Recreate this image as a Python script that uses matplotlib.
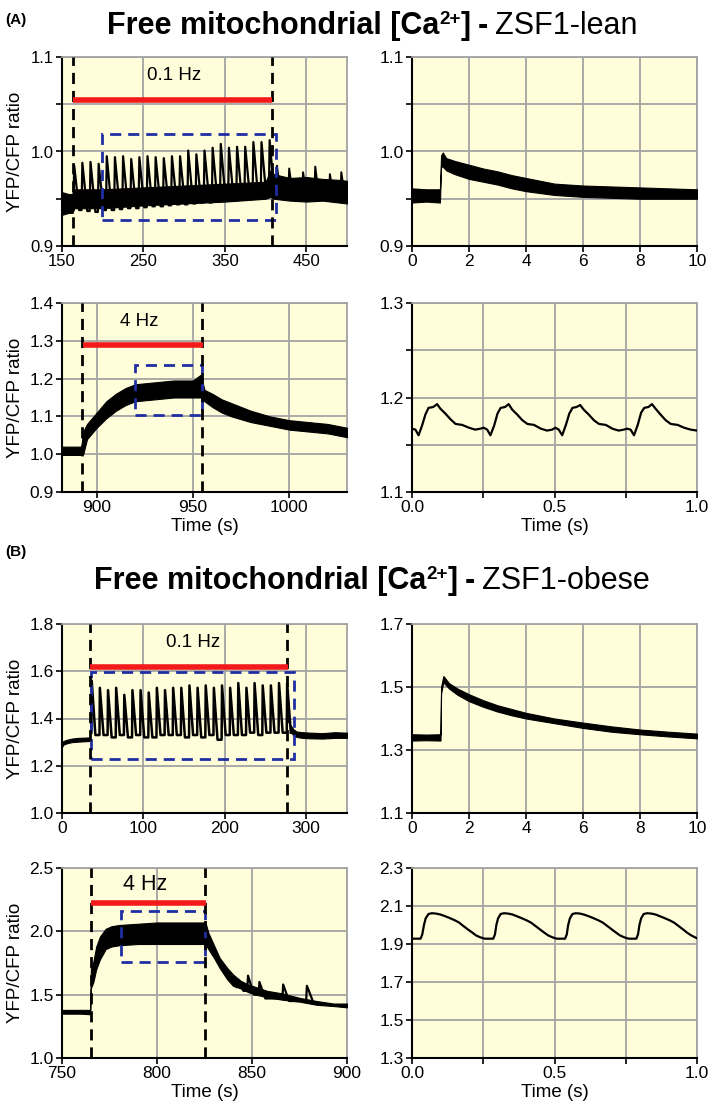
import matplotlib
matplotlib.use("Agg")
import matplotlib.pyplot as plt
from matplotlib.transforms import IdentityTransform
from matplotlib.patches import Rectangle

plt.rcParams['font.family'] = ['Liberation Sans', 'DejaVu Sans']

# ---------------- DATA ----------------
# Panel A, 0.1 Hz, ZSF1-lean (s, ratio)
a1_band_t = [150, 158, 163, 165, 200, 250, 300, 350, 400, 406, 410, 430, 450, 470, 490, 500]
a1_band_lo = [0.933, 0.935, 0.935, 0.940, 0.940, 0.943, 0.945, 0.947, 0.950, 0.952, 0.950, 0.948, 0.947, 0.948, 0.946, 0.945]
a1_band_hi = [0.957, 0.955, 0.955, 0.960, 0.960, 0.962, 0.964, 0.966, 0.968, 0.980, 0.976, 0.972, 0.973, 0.971, 0.970, 0.969]
a1_pulse_t = [164, 174, 184, 194, 204, 214, 224, 234, 244, 254, 264, 274, 284,
              294, 304, 314, 324, 334, 344, 354, 364, 374, 384, 394, 404]
a1_peak = [0.985, 0.988, 0.989, 0.987, 0.995, 0.994, 0.995, 0.992, 0.994, 0.995, 0.994, 0.993, 0.995,
           0.995, 1.001, 0.997, 1.001, 1.004, 1.008, 1.004, 1.005, 1.005, 1.010, 1.010, 1.012]
a1_trough = [0.940, 0.938, 0.937, 0.936, 0.938, 0.938, 0.939, 0.940, 0.940, 0.941, 0.942, 0.942, 0.943,
             0.944, 0.944, 0.945, 0.946, 0.946, 0.947, 0.948, 0.948, 0.949, 0.950, 0.951, 0.952]
a1_post_t = [413, 428, 445, 460, 478, 492]
a1_post_peak = [0.985, 0.982, 0.978, 0.984, 0.976, 0.978]
a1_post_base = [0.958, 0.957, 0.956, 0.957, 0.956, 0.955]

# Panel A, single 0.1 Hz transient (s, ratio)
a2_t = [0, 0.5, 0.98, 1.02, 1.08, 1.2, 1.5, 2, 2.5, 3, 3.5, 4, 4.5, 5, 5.5, 6, 7, 8, 9, 10]
a2_lo = [0.946, 0.947, 0.946, 0.984, 0.984, 0.980, 0.976, 0.971, 0.968, 0.965, 0.961, 0.958, 0.956,
         0.954, 0.953, 0.952, 0.951, 0.950, 0.950, 0.950]
a2_hi = [0.961, 0.960, 0.960, 0.996, 0.999, 0.993, 0.990, 0.986, 0.982, 0.979, 0.975, 0.972, 0.969,
         0.966, 0.965, 0.964, 0.963, 0.962, 0.961, 0.960]

# Panel A, 4 Hz, ZSF1-lean (s, ratio)
a3_t = [882, 892, 893, 895, 900, 905, 910, 915, 920, 930, 940, 950, 954, 956, 960, 965, 970, 980,
        990, 1000, 1010, 1020, 1030]
a3_lo = [0.998, 0.998, 1.000, 1.040, 1.070, 1.095, 1.115, 1.130, 1.140, 1.145, 1.150, 1.150, 1.150,
         1.140, 1.125, 1.110, 1.100, 1.085, 1.075, 1.065, 1.060, 1.055, 1.045]
a3_hi = [1.020, 1.020, 1.060, 1.080, 1.110, 1.140, 1.160, 1.175, 1.185, 1.190, 1.195, 1.195, 1.210,
         1.170, 1.160, 1.145, 1.135, 1.115, 1.100, 1.090, 1.085, 1.080, 1.070]

# Panel A, 4 Hz transients (s, ratio)
a4_t = [0.000, 0.012, 0.023, 0.035, 0.047, 0.058, 0.075, 0.088, 0.100, 0.117, 0.135, 0.153, 0.176,
        0.200, 0.222, 0.240, 0.252,
        0.264, 0.275, 0.288, 0.300, 0.311, 0.327, 0.339, 0.352, 0.369, 0.387, 0.405, 0.428, 0.452,
        0.474, 0.492, 0.503,
        0.515, 0.527, 0.540, 0.552, 0.563, 0.578, 0.590, 0.603, 0.620, 0.638, 0.656, 0.680, 0.703,
        0.725, 0.743, 0.755,
        0.767, 0.779, 0.792, 0.804, 0.815, 0.830, 0.842, 0.855, 0.872, 0.890, 0.908, 0.932, 0.955,
        0.978, 1.000]
a4_y = [1.167, 1.166, 1.160, 1.170, 1.182, 1.189, 1.190, 1.193, 1.188, 1.183, 1.177, 1.172, 1.171,
        1.168, 1.166, 1.167, 1.168,
        1.166, 1.160, 1.170, 1.183, 1.189, 1.190, 1.193, 1.187, 1.182, 1.176, 1.172, 1.171, 1.167,
        1.165, 1.166, 1.168,
        1.166, 1.160, 1.171, 1.183, 1.189, 1.190, 1.192, 1.187, 1.182, 1.176, 1.172, 1.171, 1.167,
        1.165, 1.166, 1.167,
        1.166, 1.160, 1.171, 1.184, 1.189, 1.190, 1.193, 1.188, 1.182, 1.176, 1.172, 1.171, 1.168,
        1.166, 1.165]

# Panel B, 0.1 Hz, ZSF1-obese (s, ratio)
b1_pre_t = [0, 2, 6, 12, 20, 34]
b1_pre_lo = [1.280, 1.290, 1.295, 1.300, 1.302, 1.305]
b1_pre_hi = [1.300, 1.305, 1.310, 1.315, 1.318, 1.320]
b1_pulse_t = [36, 46, 56, 66, 76, 86, 96, 106, 116, 126, 136, 146, 156,
              166, 176, 186, 196, 206, 216, 226, 236, 246, 256, 266, 276]
b1_peak = [1.56, 1.53, 1.52, 1.53, 1.50, 1.52, 1.52, 1.51, 1.53, 1.52, 1.53, 1.53, 1.54,
           1.53, 1.54, 1.53, 1.54, 1.53, 1.55, 1.53, 1.55, 1.54, 1.54, 1.55, 1.55]
b1_trough = [1.34, 1.33, 1.33, 1.32, 1.33, 1.32, 1.33, 1.32, 1.32, 1.33, 1.33, 1.33, 1.32,
             1.33, 1.32, 1.33, 1.31, 1.33, 1.33, 1.33, 1.34, 1.33, 1.34, 1.34, 1.34]
b1_post_t = [280, 284, 288, 295, 305, 320, 335, 350]
b1_post_lo = [1.345, 1.330, 1.322, 1.318, 1.316, 1.315, 1.318, 1.318]
b1_post_hi = [1.375, 1.355, 1.345, 1.342, 1.340, 1.338, 1.342, 1.340]

# Panel B, single 0.1 Hz transient (s, ratio)
b2_t = [0, 0.5, 1.0, 1.02, 1.1, 1.3, 1.6, 2, 2.5, 3, 3.5, 4, 5, 6, 7, 8, 9, 10]
b2_lo = [1.330, 1.331, 1.330, 1.480, 1.515, 1.495, 1.475, 1.455, 1.437, 1.422, 1.410, 1.400,
         1.385, 1.370, 1.358, 1.350, 1.343, 1.337]
b2_hi = [1.350, 1.349, 1.350, 1.500, 1.535, 1.512, 1.495, 1.477, 1.458, 1.442, 1.430, 1.418,
         1.400, 1.387, 1.375, 1.365, 1.358, 1.352]

# Panel B, 4 Hz, ZSF1-obese (s, ratio)
b3_t = [750, 760, 764.8, 765.2, 766.5, 768, 770, 773, 776, 780, 790, 800, 810, 820, 825.5, 827,
        830, 833, 837, 840, 844, 848, 852, 858, 866, 875, 884, 893, 900]
b3_lo = [1.35, 1.35, 1.345, 1.55, 1.60, 1.70, 1.78, 1.86, 1.88, 1.89, 1.90, 1.90, 1.90, 1.90, 1.90,
         1.86, 1.79, 1.71, 1.62, 1.57, 1.55, 1.52, 1.50, 1.48, 1.46, 1.445, 1.42, 1.41, 1.40]
b3_hi = [1.38, 1.38, 1.38, 1.70, 1.76, 1.88, 1.96, 2.02, 2.04, 2.05, 2.06, 2.07, 2.07, 2.07, 2.07,
         1.99, 1.89, 1.79, 1.71, 1.66, 1.61, 1.58, 1.56, 1.53, 1.51, 1.475, 1.45, 1.43, 1.43]
b3_spike_t = [842, 847.5, 853.5, 866, 878.5]
b3_spike_peak = [1.62, 1.65, 1.60, 1.58, 1.57]
b3_spike_base = [1.56, 1.53, 1.50, 1.47, 1.45]

# Panel B, 4 Hz transients (s, ratio)
b4_t = [0.000, 0.030, 0.036, 0.042, 0.048, 0.058, 0.070, 0.085, 0.100, 0.115, 0.130, 0.150, 0.165,
        0.180, 0.195, 0.210, 0.225, 0.240, 0.255, 0.285,
        0.291, 0.296, 0.302, 0.311, 0.323, 0.338, 0.353, 0.368, 0.383, 0.403, 0.418, 0.433, 0.448,
        0.463, 0.478, 0.493, 0.508, 0.537,
        0.543, 0.548, 0.554, 0.563, 0.575, 0.590, 0.605, 0.620, 0.635, 0.655, 0.670, 0.685, 0.700,
        0.715, 0.730, 0.745, 0.760, 0.787,
        0.793, 0.798, 0.804, 0.813, 0.825, 0.840, 0.855, 0.870, 0.885, 0.905, 0.920, 0.935, 0.950,
        0.965, 0.980, 1.000]
b4_y = [1.928, 1.928, 1.950, 2.000, 2.035, 2.058, 2.062, 2.060, 2.055, 2.047, 2.038, 2.025, 2.013,
        1.995, 1.978, 1.962, 1.945, 1.935, 1.928, 1.928,
        1.950, 2.000, 2.035, 2.058, 2.062, 2.060, 2.055, 2.046, 2.037, 2.024, 2.012, 1.995, 1.978,
        1.961, 1.945, 1.935, 1.928, 1.928,
        1.950, 2.000, 2.035, 2.058, 2.062, 2.060, 2.054, 2.046, 2.037, 2.024, 2.012, 1.995, 1.978,
        1.961, 1.945, 1.935, 1.928, 1.928,
        1.950, 2.000, 2.035, 2.058, 2.062, 2.060, 2.055, 2.046, 2.037, 2.024, 2.012, 1.995, 1.978,
        1.960, 1.945, 1.930]

# Ticks / grid
a1_xgrid = [150, 250, 350, 450]; a1_xlab = ['150', '250', '350', '450']
a1_ygrid = [0.9, 0.95, 1.0, 1.05, 1.1]; a1_ylab = ['0.9', '', '1.0', '', '1.1']
a2_xgrid = [0, 2, 4, 6, 8, 10]; a2_xlab = ['0', '2', '4', '6', '8', '10']
a3_xgrid = [900, 950, 1000]; a3_xlab = ['900', '950', '1000']
a3_ygrid = [0.9, 1.0, 1.1, 1.2, 1.3, 1.4]; a3_ylab = ['0.9', '1.0', '1.1', '1.2', '1.3', '1.4']
a4_xgrid = [0, 0.25, 0.5, 0.75, 1.0]; a4_xlab = ['0.0', '', '0.5', '', '1.0']
a4_ygrid = [1.1, 1.15, 1.2, 1.25, 1.3]; a4_ylab = ['1.1', '', '1.2', '', '1.3']
b1_xgrid = [0, 100, 200, 300]; b1_xlab = ['0', '100', '200', '300']
b1_ygrid = [1.0, 1.2, 1.4, 1.6, 1.8]; b1_ylab = ['1.0', '1.2', '1.4', '1.6', '1.8']
b2_ygrid = [1.1, 1.3, 1.5, 1.7]; b2_ylab = ['1.1', '1.3', '1.5', '1.7']
b3_xgrid = [750, 800, 850, 900]; b3_xlab = ['750', '800', '850', '900']
b3_ygrid = [1.0, 1.5, 2.0, 2.5]; b3_ylab = ['1.0', '1.5', '2.0', '2.5']
b4_ygrid = [1.3, 1.5, 1.7, 1.9, 2.1, 2.3]; b4_ylab = ['1.3', '1.5', '1.7', '1.9', '2.1', '2.3']

# ---------------- STYLE ----------------
BG = '#FFFDDA'
GRID = '#A3A3A3'
RED = '#F21A1A'
BLUE = '#1F2FA3'
W, H = 709, 1112

fig = plt.figure(figsize=(W / 100, H / 100), dpi=100)


def make_ax(x0, y0, x1, y1):
    return fig.add_axes([x0 / W, 1 - y1 / H, (x1 - x0) / W, (y1 - y0) / H])


def style(ax, xlim, ylim, xg, xl, yg, yl, ylabel=False, xlabel=False, tfs=12.5):
    ax.set_facecolor(BG)
    ax.set_xlim(*xlim)
    ax.set_ylim(*ylim)
    ax.set_xticks(xg)
    ax.set_xticklabels(xl)
    ax.set_yticks(yg)
    ax.set_yticklabels(yl)
    ax.grid(True, color=GRID, lw=1.3, zorder=0)
    ax.set_axisbelow(True)
    for s in ['top', 'right']:
        ax.spines[s].set_color(GRID)
        ax.spines[s].set_linewidth(1.3)
    for s in ['left', 'bottom']:
        ax.spines[s].set_color('black')
        ax.spines[s].set_linewidth(1.5)
    ax.tick_params(direction='out', length=4, width=1.2, pad=2, labelsize=tfs, colors='black')
    if ylabel:
        ax.set_ylabel('YFP/CFP ratio', fontsize=13.5)
        ax.yaxis.set_label_coords(-0.135, 0.5)
    if xlabel:
        ax.set_xlabel('Time (s)', fontsize=13.5, va='top')
        ax.xaxis.set_label_coords(0.5, -0.135)


def band(ax, t, lo, hi):
    ax.fill_between(t, lo, hi, color='black', lw=0.8, zorder=3)


def spikes(ax, pt, pk, tr, rise, fall, lw=1.6):
    xs, ys = [], []
    for i in range(len(pt)):
        xs += [pt[i], pt[i] + rise, pt[i] + fall]
        ys += [tr[i], pk[i], tr[min(i + 1, len(tr) - 1)]]
    ax.plot(xs, ys, color='black', lw=lw, zorder=4)


def annot(ax, vl, bar_y, bar_x, label, lab_xy, box, fs=13.5):
    for v in vl:
        ax.axvline(v, color='black', lw=2.0, ls=(0, (4, 2.5)), zorder=6)
    ax.plot(bar_x, [bar_y, bar_y], color=RED, lw=4, solid_capstyle='butt', zorder=7)
    ax.text(lab_xy[0], lab_xy[1], label, fontsize=fs, ha='center', va='center', zorder=8)
    ax.add_patch(Rectangle((box[0], box[2]), box[1] - box[0], box[3] - box[2], fill=False,
                           ec=BLUE, lw=2.0, ls=(0, (4, 2.5)), zorder=5))


# ---- Panel A top-left
ax = make_ax(62, 57, 347, 246)
style(ax, (150, 500), (0.9, 1.1), a1_xgrid, a1_xlab, a1_ygrid, a1_ylab, ylabel=True, tfs=12)
band(ax, a1_band_t, a1_band_lo, a1_band_hi)
spikes(ax, a1_pulse_t, a1_peak, a1_trough, 1.0, 7.0)
spikes(ax, a1_post_t, a1_post_peak, a1_post_base, 1.0, 5.0, lw=1.4)
annot(ax, [163.5, 407.5], 1.055, [163, 408], '0.1 Hz', (288, 1.08), (199, 413, 0.927, 1.018))

# ---- Panel A top-right
ax = make_ax(412, 57, 697, 246)
style(ax, (0, 10), (0.9, 1.1), a2_xgrid, a2_xlab, a1_ygrid, a1_ylab)
band(ax, a2_t, a2_lo, a2_hi)

# ---- Panel A bottom-left
ax = make_ax(62, 303, 347, 492)
style(ax, (882, 1030), (0.9, 1.4), a3_xgrid, a3_xlab, a3_ygrid, a3_ylab, ylabel=True, xlabel=True)
band(ax, a3_t, a3_lo, a3_hi)
annot(ax, [892.5, 954.5], 1.29, [893, 955], '4 Hz', (922, 1.35), (919.8, 954.7, 1.103, 1.237))

# ---- Panel A bottom-right
ax = make_ax(412, 303, 697, 492)
style(ax, (0, 1), (1.1, 1.3), a4_xgrid, a4_xlab, a4_ygrid, a4_ylab, xlabel=True)
ax.plot(a4_t, a4_y, color='black', lw=1.6, zorder=4)

# ---- Panel B top-left
ax = make_ax(62, 624, 347, 813)
style(ax, (0, 350), (1.0, 1.8), b1_xgrid, b1_xlab, b1_ygrid, b1_ylab, ylabel=True)
band(ax, b1_pre_t, b1_pre_lo, b1_pre_hi)
band(ax, b1_post_t, b1_post_lo, b1_post_hi)
spikes(ax, b1_pulse_t, b1_peak, b1_trough, 0.5, 5.0, lw=1.8)
annot(ax, [34.5, 276], 1.62, [34, 277], '0.1 Hz', (161, 1.72), (35.5, 285.5, 1.23, 1.595))

# ---- Panel B top-right
ax = make_ax(412, 624, 697, 813)
style(ax, (0, 10), (1.1, 1.7), a2_xgrid, a2_xlab, b2_ygrid, b2_ylab)
band(ax, b2_t, b2_lo, b2_hi)

# ---- Panel B bottom-left
ax = make_ax(62, 868, 347, 1058)
style(ax, (750, 900), (1.0, 2.5), b3_xgrid, b3_xlab, b3_ygrid, b3_ylab, ylabel=True, xlabel=True)
band(ax, b3_t, b3_lo, b3_hi)
spikes(ax, b3_spike_t, b3_spike_peak, b3_spike_base, 0.4, 3.5, lw=1.6)
annot(ax, [765, 825.5], 2.22, [765, 826], '4 Hz', (794, 2.37), (781, 825, 1.76, 2.16), fs=15.5)

# ---- Panel B bottom-right
ax = make_ax(412, 868, 697, 1058)
style(ax, (0, 1), (1.3, 2.3), a4_xgrid, a4_xlab, b4_ygrid, b4_ylab, xlabel=True)
ax.plot(b4_t, b4_y, color='black', lw=1.6, zorder=4)


# ---------------- TITLES ----------------
def draw_title(xc, y_top_base, parts):
    renderer = fig.canvas.get_renderer()
    arts = []
    for s, size, weight, dy, gap in parts:
        t = fig.text(0, 0, s, fontsize=size, fontweight=weight, ha='left', va='baseline',
                     transform=IdentityTransform())
        arts.append((t, dy, gap))
    widths = [a[0].get_window_extent(renderer).width for a in arts]
    total = sum(widths) + sum(a[2] for a in arts)
    x = xc - total / 2
    yb = H - y_top_base
    for (t, dy, gap), w in zip(arts, widths):
        t.set_position((x, yb + dy))
        x += w + gap


TS = 22
for name, yb in [('ZSF1-lean', 34), ('ZSF1-obese', 589)]:
    draw_title(372, yb, [('Free mitochondrial [Ca', TS, 'bold', 0, 0),
                         ('2+', TS * 0.62, 'bold', 10, 0),
                         (']', TS, 'bold', 0, 7),
                         ('-', TS, 'bold', 0, 7),
                         (name, TS, 'normal', 0, 0)])

fig.text(5 / W, 1 - 24 / H, '(A)', fontsize=11, fontweight='bold', ha='left', va='baseline')
fig.text(5 / W, 1 - 556 / H, '(B)', fontsize=11, fontweight='bold', ha='left', va='baseline')

fig.savefig('out.png', dpi=100)
